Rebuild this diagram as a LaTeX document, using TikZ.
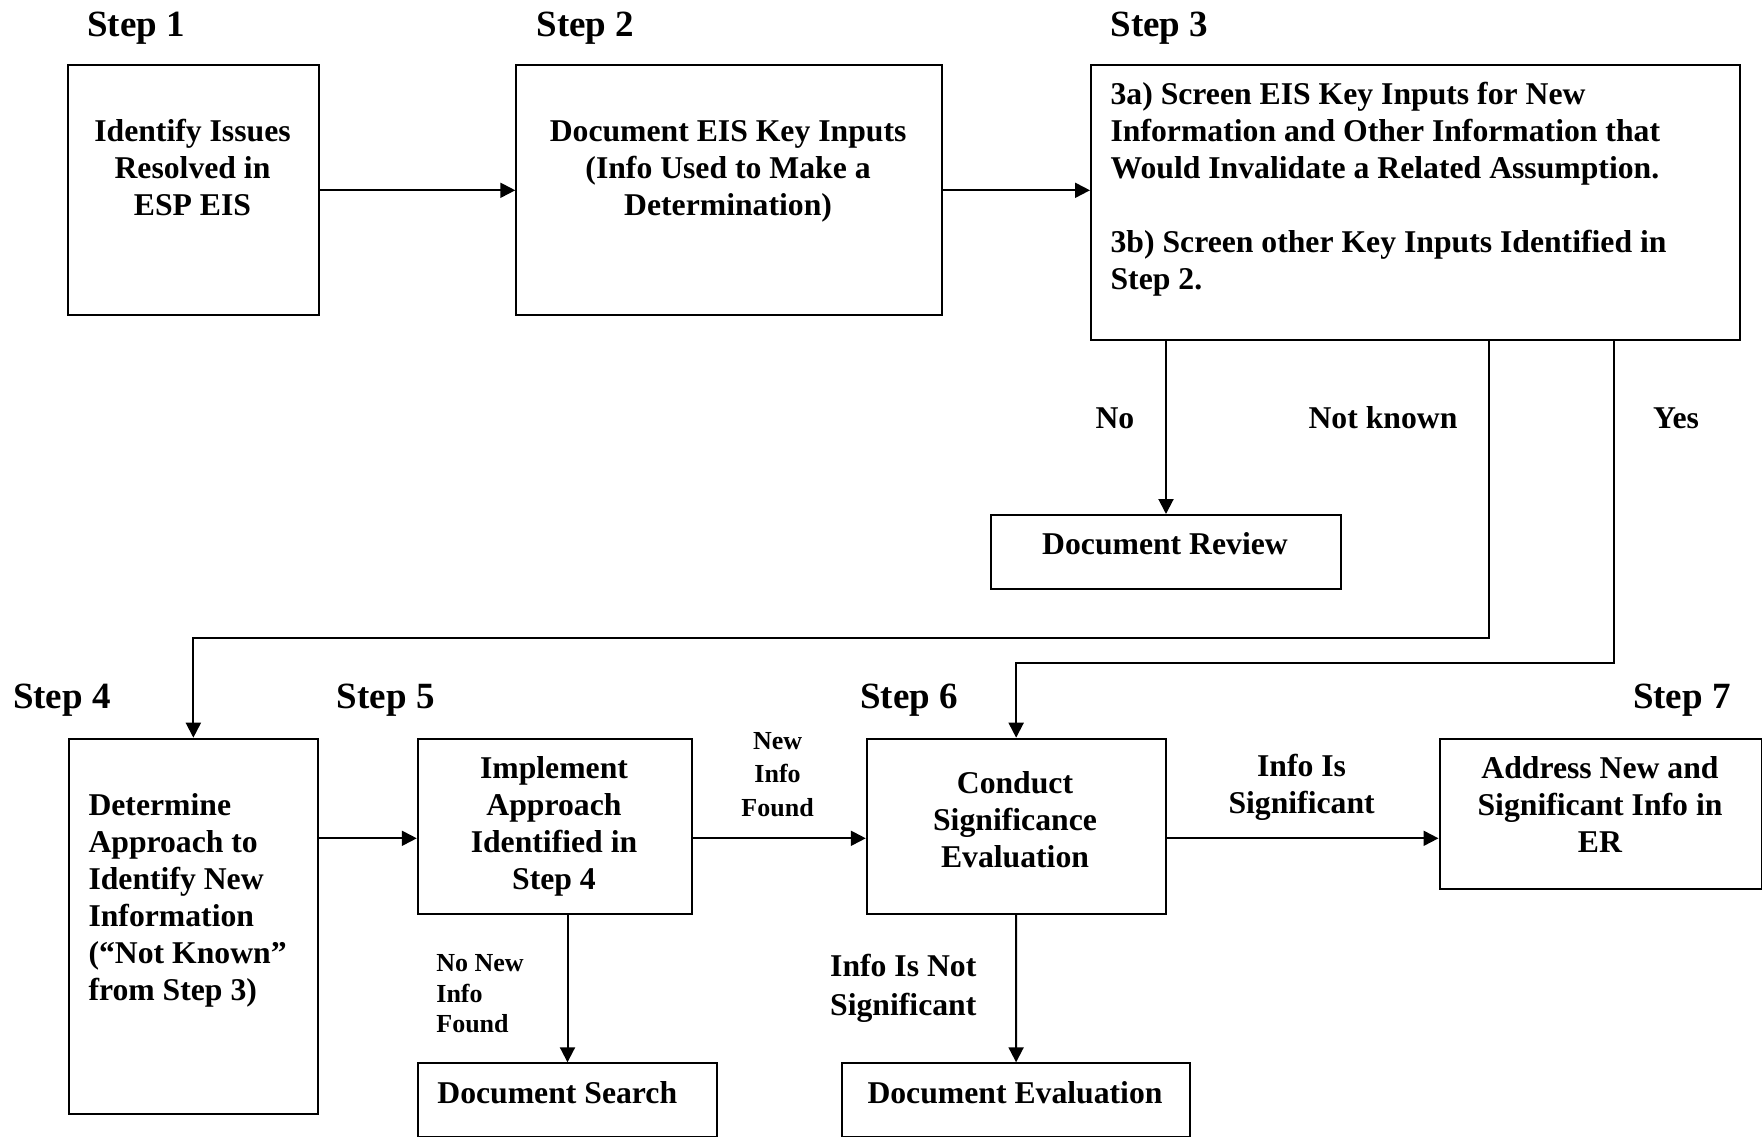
\documentclass[tikz,border=0pt]{standalone}
\usepackage{fontspec}
\setmainfont{Liberation Serif}
\usetikzlibrary{arrows.meta}
\newcommand{\mlc}[1]{\begin{tabular}[t]{@{}c@{}}#1\end{tabular}}
\newcommand{\mll}[1]{\begin{tabular}[t]{@{}l@{}}#1\end{tabular}}
\tikzset{
  box/.style={draw, line width=2pt, inner sep=0pt, anchor=north west},
  arr/.style={line width=2pt, -{Triangle[length=15pt,width=15pt]}},
  steplbl/.style={anchor=base west, inner sep=0pt, font=\fontsize{37}{44}\selectfont\bfseries},
  txt/.style={inner sep=0pt, font=\fontsize{31.7}{37}\selectfont\bfseries},
  smalltxt/.style={inner sep=0pt, font=\fontsize{26}{30.3}\selectfont\bfseries},
}
\begin{document}
\begin{tikzpicture}[x=1pt,y=-1pt]
\useasboundingbox (0,0) rectangle (1762,1137);

% step labels
\node[steplbl] (s1) at (87,36.7) {Step 1};
\node[steplbl] (s2) at (536.4,36.7) {Step 2};
\node[steplbl] (s3) at (1110.4,36.5) {Step 3};
\node[steplbl] (s4) at (12.8,708.3) {Step 4};
\node[steplbl] (s5) at (336.7,708.3) {Step 5};
\node[steplbl] (s6) at (860.2,708.3) {Step 6};
\node[steplbl] (s7) at (1632.8,708.3) {Step 7};

% boxes
\node[box, minimum width=250.2pt, minimum height=250pt] (b1) at (67.4,64.3) {};
\node[box, minimum width=425.6pt, minimum height=250pt] (b2) at (515.3,64.3) {};
\node[box, minimum width=648.9pt, minimum height=274.6pt] (b3) at (1090,64.5) {};
\node[box, minimum width=350pt, minimum height=74.3pt] (dr) at (990,514) {};
\node[box, minimum width=248.9pt, minimum height=375pt] (b4) at (67.9,737.7) {};
\node[box, minimum width=274.5pt, minimum height=175pt] (b5) at (416.8,737.7) {};
\node[box, minimum width=298.7pt, minimum height=175pt] (b6) at (865.8,737.7) {};
\node[box, minimum width=322pt, minimum height=149.7pt] (b7) at (1438.5,738) {};
\node[box, minimum width=299pt, minimum height=73.5pt] (ds) at (417,1062.3) {};
\node[box, minimum width=348.6pt, minimum height=73.5pt] (de) at (840.8,1062.3) {};

% box texts
\node[txt, anchor=base] (t1) at (192.5,141.7) {\mlc{Identify Issues\\Resolved in\\ESP EIS}};
\node[txt, anchor=base] (t2) at (728.1,141.7) {\mlc{Document EIS Key Inputs\\(Info Used to Make a\\Determination)}};
\node[txt, anchor=base west] (t3) at (1110.4,104.1) {\mll{3a) Screen EIS Key Inputs for New\\Information and Other Information that\\Would Invalidate a Related Assumption.\\ \\3b) Screen other Key Inputs Identified in\\Step 2.}};
\node[txt, anchor=base] (tdr) at (1165,554) {Document Review};
\node[txt, anchor=base west] (t4) at (88.3,815) {\mll{Determine\\Approach to\\Identify New\\Information\\(“Not Known”\\from Step 3)}};
\node[txt, anchor=base] (t5) at (554,778.3) {\mlc{Implement\\Approach\\Identified in\\Step 4}};
\node[txt, anchor=base] (t6) at (1015,793.3) {\mlc{Conduct\\Significance\\Evaluation}};
\node[txt, anchor=base] (t7) at (1600,778.3) {\mlc{Address New and\\Significant Info in\\ER}};
\node[txt, anchor=base west] (tds) at (437.2,1103.3) {Document Search};
\node[txt, anchor=base] (tde) at (1015,1103.3) {Document Evaluation};

% connector labels
\node[txt, anchor=base west] (lno) at (1095.4,428.6) {No};
\node[txt, anchor=base] (lnk) at (1383,428.6) {Not known};
\node[txt, anchor=base] (lyes) at (1676,428.6) {Yes};
\node[smalltxt, anchor=base, font=\fontsize{26}{33.7}\selectfont\bfseries] (lnew) at (777.6,749) {\mlc{New\\Info\\Found}};
\node[smalltxt, anchor=base west] (lnonew) at (436.2,971.7) {\mll{No New\\Info\\Found}};
\node[txt, anchor=base] (lsig) at (1301.6,776.7) {\mlc{Info Is\\Significant}};
\node[txt, anchor=base west, font=\fontsize{31.7}{38.3}\selectfont\bfseries] (lnsig) at (830,976.7) {\mll{Info Is Not\\Significant}};

% connectors
\coordinate (row) at (0,838.3);
\coordinate (nk) at (1488.7,638.3);
\coordinate (yk) at (1614,663.3);
\draw[arr] (b1.east) -- (b2.west);
\draw[arr] (b2.east) -- (b2.east -| b3.west);
\draw[arr] (b3.south -| dr.north) -- (dr.north);
\draw[arr] (b3.south -| nk) -- (nk) -| (b4.north);
\draw[arr] (b3.south -| yk) -- (yk) -| (b6.north);
\draw[arr] (b4.east |- row) -- (b5.west |- row);
\draw[arr] (b5.east |- row) -- (b6.west |- row);
\draw[arr] (b6.east |- row) -- (b7.west |- row);
\draw[arr] (b5.south -| ds.north) -- (ds.north);
\draw[arr] (b6.south) -- (de.north);
\end{tikzpicture}
\end{document}
